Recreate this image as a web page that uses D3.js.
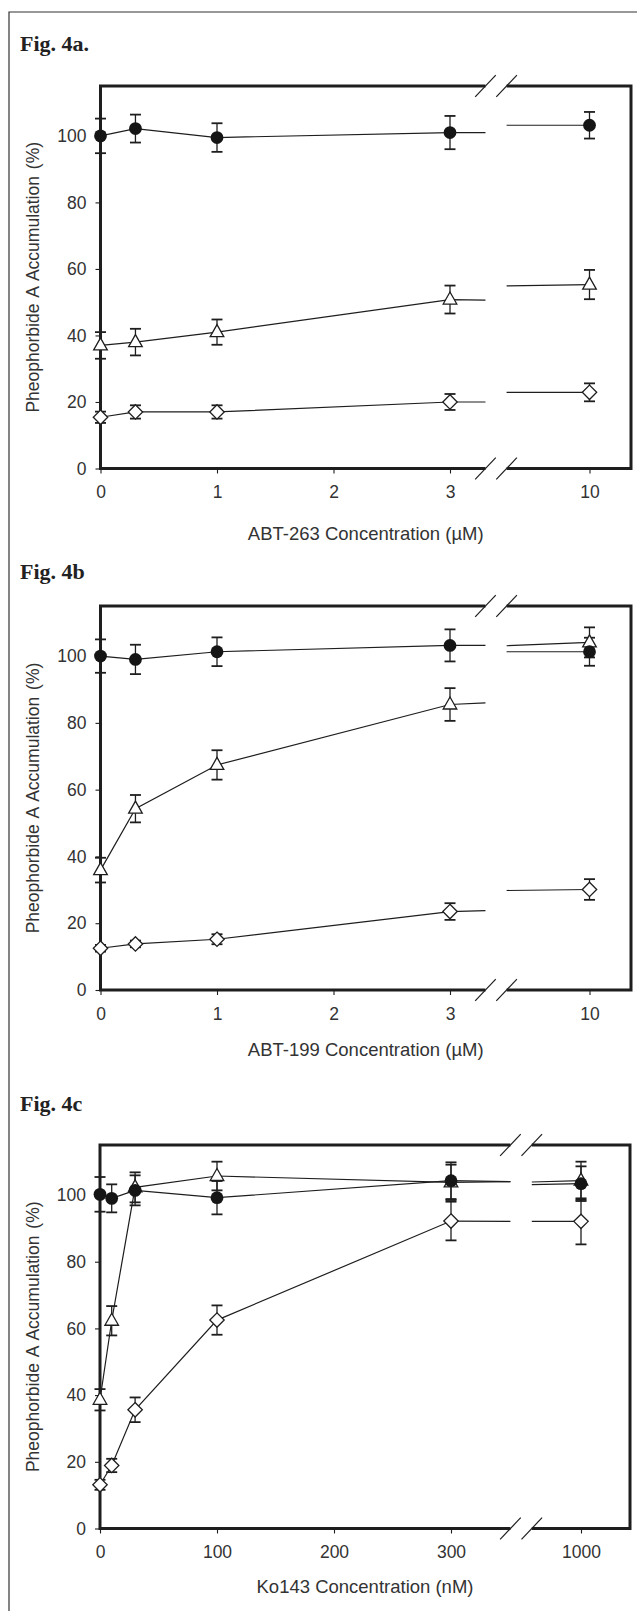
<!DOCTYPE html>
<html><head><meta charset="utf-8">
<script src="https://cdn.jsdelivr.net/npm/d3@7"></script>
<style>
body{margin:0;background:#fff}
svg{display:block}
text{font-family:"Liberation Sans",Arial,sans-serif;fill:#333}
</style>
</head><body>
<svg id="chart" width="637" height="1611"></svg>
<script>
// ---------------- DATA ----------------
const figLabels = ["Fig. 4a.", "Fig. 4b", "Fig. 4c"];
const xTitles = ["ABT-263 Concentration (\u00B5M)", "ABT-199 Concentration (\u00B5M)", "Ko143 Concentration (nM)"];
const yTitle = "Pheophorbide A Accumulation (%)";
const yTicks = [0, 20, 40, 60, 80, 100];

// Panel a: ABT-263
const concA = [0, 0.3, 1, 3, 10];
const xTicksA = [0, 1, 2, 3, 10];
const xTickLabelsA = ["0", "1", "2", "3", "10"];
const circleA = [100, 102.2, 99.5, 101, 103.2];
const circleErrA = [5.2, 4.2, 4.3, 5, 4];
const triangleA = [37, 38, 41, 50.8, 55.3];
const triangleErrA = [4, 4, 3.8, 4.2, 4.4];
const diamondA = [15.4, 17, 17, 20, 22.9];
const diamondErrA = [1.7, 2, 2, 2.4, 2.7];
const stubLeftA = [101, 50.6, 20];     // circle, triangle, diamond at break start
const stubRightA = [103.2, 54.9, 22.9]; // at break end
const breakA = [4.78, 5.84];

// Panel b: ABT-199
const concB = [0, 0.3, 1, 3, 10];
const xTicksB = [0, 1, 2, 3, 10];
const xTickLabelsB = ["0", "1", "2", "3", "10"];
const circleB = [100, 99, 101.3, 103.2, 101.3];
const circleErrB = [5, 4.4, 4.3, 4.8, 4.2];
const triangleB = [35.9, 54.3, 67.4, 85.5, 104.1];
const triangleErrB = [3.7, 4.1, 4.4, 4.9, 4.5];
const diamondB = [12.5, 13.8, 15.2, 23.5, 30.1];
const diamondErrB = [1, 1, 1.5, 2.5, 3.1];
const stubLeftB = [103.2, 86, 23.8];
const stubRightB = [101.3, 103.1, 29.8];
const breakB = [4.78, 5.84];

// Panel c: Ko143
const concC = [0, 10, 30, 100, 300, 1000];
const xTicksC = [0, 100, 200, 300, 1000];
const xTickLabelsC = ["0", "100", "200", "300", "1000"];
const circleC = [100.2, 99, 101.4, 99.2, 104.3, 103.4];
const circleErrC = [5.2, 4.2, 4.5, 5, 5.5, 5.2];
const triangleC = [38.6, 62.3, 102.3, 105.7, 103.8, 104.3];
const triangleErrC = [3.2, 4.4, 4.5, 4.3, 5.3, 5.7];
const diamondC = [13.1, 18.9, 35.6, 62.5, 92.2, 92.1];
const diamondErrC = [1.5, 2, 3.7, 4.4, 5.8, 6.9];
const stubLeftC = [104, 104, 92.1];
const stubRightC = [103.1, 103.9, 92.1];
const breakC = [620, 735];

// ---------------- LAYOUT ----------------
const panels = [
  {label: figLabels[0], labelY: 51, top: 86, bottom: 468.5, left: 100.5, right: 631,
   xDomain: [0, 3, 10], xRange: [100.5, 450, 589.5], titleY: 539.5,
   conc: concA, ticks: xTicksA, tickLabels: xTickLabelsA, brk: breakA,
   series: [[circleA, circleErrA], [triangleA, triangleErrA], [diamondA, diamondErrA]],
   stubL: stubLeftA, stubR: stubRightA, xTitle: xTitles[0]},
  {label: figLabels[1], labelY: 578.5, top: 606, bottom: 990, left: 100.5, right: 631,
   xDomain: [0, 3, 10], xRange: [100.5, 450, 589.5], titleY: 1056,
   conc: concB, ticks: xTicksB, tickLabels: xTickLabelsB, brk: breakB,
   series: [[circleB, circleErrB], [triangleB, triangleErrB], [diamondB, diamondErrB]],
   stubL: stubLeftB, stubR: stubRightB, xTitle: xTitles[1]},
  {label: figLabels[2], labelY: 1111, top: 1145, bottom: 1528.5, left: 100, right: 630,
   xDomain: [0, 300, 1000], xRange: [100, 451, 581], titleY: 1592.5,
   conc: concC, ticks: xTicksC, tickLabels: xTickLabelsC, brk: breakC,
   series: [[circleC, circleErrC], [triangleC, triangleErrC], [diamondC, diamondErrC]],
   stubL: stubLeftC, stubR: stubRightC, xTitle: xTitles[2]}
];

const svg = d3.select("#chart");
const ink = "#1e1e1e";

// outer frame (left and top edges)
svg.append("path").attr("d", "M9,1611 L9,12 L637,12")
  .attr("fill", "none").attr("stroke", "#333").attr("stroke-width", 1.2);

const symTri = "M0,-7.5 L6.8,4.5 L-6.8,4.5 Z";
const symDia = "M0,-7.2 L7.2,0 L0,7.2 L-7.2,0 Z";

panels.forEach(p => {
  const x = d3.scaleLinear().domain(p.xDomain).range(p.xRange);
  const y = d3.scaleLinear().domain([0, 115]).range([p.bottom, p.top]);
  const g = svg.append("g");

  // figure label
  svg.append("text").attr("x", 20).attr("y", p.labelY)
    .style("font-family", "'Liberation Serif','Times New Roman',serif")
    .style("font-weight", "bold").style("font-size", "22px").style("fill", "#222")
    .text(p.label);

  const gx0 = x(p.brk[0]), gx1 = x(p.brk[1]);

  // y axis ticks & labels
  const ya = g.append("g").attr("transform", `translate(${p.left},0)`)
    .call(d3.axisLeft(y).tickValues(yTicks).tickSize(5).tickPadding(9).tickFormat(d3.format("d")));
  ya.select(".domain").remove();
  ya.selectAll("line").attr("stroke", ink).attr("stroke-width", 1.1);
  ya.selectAll("text").style("font-size", "17.5px").style("fill", "#333").style("font-family", "'Liberation Sans',Arial,sans-serif");

  // x axis ticks & labels
  const xa = g.append("g").attr("transform", `translate(0,${p.bottom})`)
    .call(d3.axisBottom(x).tickValues(p.ticks).tickSize(5).tickPadding(12.5)
      .tickFormat((d, i) => p.tickLabels[i]));
  xa.select(".domain").remove();
  xa.selectAll("line").attr("stroke", ink).attr("stroke-width", 1.1);
  xa.selectAll("text").style("font-size", "17.5px").style("fill", "#333").style("font-family", "'Liberation Sans',Arial,sans-serif");

  // plot border with break gaps
  const L = p.left, R = p.right, T = p.top, B = p.bottom;
  g.append("path")
    .attr("d", `M${gx0},${T} L${L},${T} L${L},${B} L${gx0},${B} M${gx1},${B} L${R},${B} L${R},${T} L${gx1},${T}`)
    .attr("fill", "none").attr("stroke", ink).attr("stroke-width", 3);

  // break slashes
  [T, B].forEach(yy => {
    [gx0, gx1].forEach(xx => {
      g.append("line").attr("x1", xx - 10.3).attr("y1", yy + 10.8)
        .attr("x2", xx + 10.3).attr("y2", yy - 10.8)
        .attr("stroke", ink).attr("stroke-width", 1.2);
    });
  });

  // axis titles
  svg.append("text").attr("x", (L + R) / 2).attr("y", p.titleY)
    .attr("text-anchor", "middle").style("font-size", "18.5px").text(p.xTitle);
  svg.append("text")
    .attr("transform", `translate(39,${(T + B) / 2}) rotate(-90)`)
    .attr("text-anchor", "middle").style("font-size", "17.5px").style("word-spacing", "2px")
    .text(yTitle);

  const n = p.conc.length;
  const line = d3.line().x(d => x(d[0])).y(d => y(d[1]));

  // lines
  p.series.forEach((s, si) => {
    const vals = s[0];
    const main = [];
    for (let i = 0; i < n - 1; i++) main.push([p.conc[i], vals[i]]);
    main.push([p.brk[0], p.stubL[si]]);
    g.append("path").attr("d", line(main)).attr("fill", "none")
      .attr("stroke", ink).attr("stroke-width", 1.2);
    g.append("path").attr("d", line([[p.brk[1], p.stubR[si]], [p.conc[n - 1], vals[n - 1]]]))
      .attr("fill", "none").attr("stroke", ink).attr("stroke-width", 1.2);
  });

  // error bars
  p.series.forEach(s => {
    const vals = s[0], errs = s[1];
    vals.forEach((v, i) => {
      const cx = x(p.conc[i]);
      const eb = g.append("g").attr("stroke", ink).attr("stroke-width", 1.3);
      eb.append("line").attr("x1", cx).attr("x2", cx).attr("y1", y(v - errs[i])).attr("y2", y(v + errs[i]));
      [v - errs[i], v + errs[i]].forEach(e => {
        eb.append("line").attr("x1", cx - 5.5).attr("x2", cx + 5.5).attr("y1", y(e)).attr("y2", y(e)).attr("stroke-width", 1.8);
      });
    });
  });

  // markers: diamonds, triangles, then circles on top
  [2, 1, 0].forEach(si => {
    const vals = p.series[si][0];
    vals.forEach((v, i) => {
      const cx = x(p.conc[i]), cy = y(v);
      if (si === 0) {
        g.append("circle").attr("cx", cx).attr("cy", cy).attr("r", 6.4).attr("fill", "#151515");
      } else {
        g.append("path").attr("d", si === 1 ? symTri : symDia)
          .attr("transform", `translate(${cx},${cy})`)
          .attr("fill", "#fff").attr("stroke", ink).attr("stroke-width", 1.3);
      }
    });
  });
});
</script>
</body></html>
